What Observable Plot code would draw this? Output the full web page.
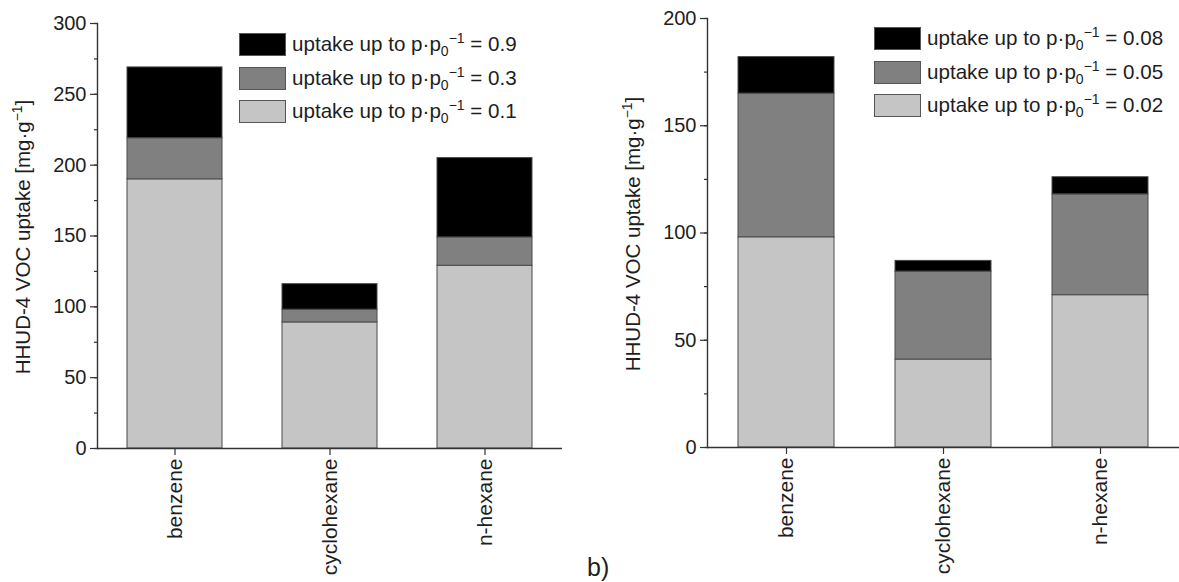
<!DOCTYPE html>
<html>
<head>
<meta charset="utf-8">
<script src="https://cdn.jsdelivr.net/npm/d3@7"></script>
<script src="https://cdn.jsdelivr.net/npm/@observablehq/plot@0.6"></script>
<style>
  html, body { margin: 0; padding: 0; background: #fff; }
  #root { position: relative; width: 1179px; height: 582px; overflow: hidden; background: #fff;
          font-family: "Liberation Sans", Arial, sans-serif; color: #1e1e1e; }
  .panel { position: absolute; top: 0; }
  .ylab { position: absolute; white-space: nowrap; font-size: 20.5px; transform: translate(-50%, -50%) rotate(-90deg); }
  .legend { position: absolute; font-size: 20.6px; }
  .row { position: absolute; left: 0; display: flex; align-items: center; white-space: nowrap; }
  .sw { box-sizing: border-box; border: 1px solid #555; margin-right: 6px; }
  sub { font-size: 0.68em; vertical-align: -0.35em; }
  sup { font-size: 0.68em; vertical-align: 0.6em; }
  .ylab sup { vertical-align: 0.55em; }
  #tag { position: absolute; left: 587px; top: 553px; font-size: 25px; }
  .panel g[aria-label="x-axis tick label"] { font-size: 21px; }
</style>
</head>
<body>
<div id="root"></div>
<script>
// ---- data ----
const categories = ["benzene", "cyclohexane", "n-hexane"];
const fills = ["#c5c5c5", "#808080", "#000000"];

// left panel: relative pressures and cumulative uptake (mg/g)
const leftPressures = ["0.1", "0.3", "0.9"];
const leftUpTo01 = [190, 89, 129];
const leftUpTo03 = [219, 98, 149];
const leftUpTo09 = [269, 116, 205];
const leftTicks = [0, 50, 100, 150, 200, 250, 300];

// right panel
const rightPressures = ["0.02", "0.05", "0.08"];
const rightUpTo002 = [98, 41, 71];
const rightUpTo005 = [165, 82, 118];
const rightUpTo008 = [182, 87, 126];
const rightTicks = [0, 50, 100, 150, 200];

function buildRows(levels, pressures) {
  const rows = [];
  categories.forEach((c, i) => {
    levels.forEach((lv, j) => {
      rows.push({cat: c, p: pressures[j], y1: j === 0 ? 0 : levels[j - 1][i], y2: lv[i]});
    });
  });
  return rows;
}

function panel({levels, pressures, ticks, width, marginLeft, marginRight, marginTop, marginBottom}) {
  const max = ticks[ticks.length - 1];
  const minor = d3.range(0, max + 1, 25);
  return Plot.plot({
    width, height: 582, marginLeft, marginRight, marginTop, marginBottom,
    style: {fontFamily: "'Liberation Sans', Arial, sans-serif", fontSize: "20px", color: "#1e1e1e", background: "transparent", overflow: "visible"},
    x: {domain: categories, paddingInner: 0.39, paddingOuter: 0.195, label: null},
    y: {domain: [0, max], label: null},
    color: {domain: pressures, range: fills},
    marks: [
      Plot.barY(buildRows(levels, pressures), {x: "cat", y1: "y1", y2: "y2", fill: "p", stroke: "#4a4a4a", strokeWidth: 1}),
      Plot.axisY({ticks: minor, tickSize: 3, tickFormat: () => "", stroke: "#333", strokeWidth: 1.2}),
      Plot.axisY({ticks, tickSize: 7, tickPadding: 4, stroke: "#333", strokeWidth: 1.2, fill: "#1e1e1e"}),
      Plot.axisX({tickSize: 7, tickPadding: 3, tickRotate: -90, stroke: "#333", strokeWidth: 1.2, fill: "#1e1e1e", fontSize: 21}),
      Plot.ruleY([0], {stroke: "#333", strokeWidth: 1.4}),
      Plot.frame({anchor: "left", stroke: "#333", strokeWidth: 1.4})
    ]
  });
}

const root = document.getElementById("root");

const left = panel({levels: [leftUpTo01, leftUpTo03, leftUpTo09], pressures: leftPressures, ticks: leftTicks,
  width: 600, marginLeft: 97, marginRight: 38, marginTop: 23, marginBottom: 134});
left.classList.add("panel"); left.style.left = "0px";
root.appendChild(left);

const right = panel({levels: [rightUpTo002, rightUpTo005, rightUpTo008], pressures: rightPressures, ticks: rightTicks,
  width: 579, marginLeft: 107, marginRight: 0, marginTop: 18, marginBottom: 135});
right.classList.add("panel"); right.style.left = "600px";
root.appendChild(right);

function yLabel(x, y) {
  const d = document.createElement("div");
  d.className = "ylab";
  d.style.left = x + "px"; d.style.top = y + "px";
  d.innerHTML = "HHUD-4 VOC uptake [mg·g<sup>−1</sup>]";
  root.appendChild(d);
}
yLabel(22, 237);
yLabel(632, 234);

function legend(x, y, pressures, rowStep, swW) {
  const lg = document.createElement("div");
  lg.className = "legend";
  lg.style.left = x + "px"; lg.style.top = y + "px";
  pressures.slice().reverse().forEach((p, k) => {
    const idx = pressures.length - 1 - k;
    const r = document.createElement("div");
    r.className = "row";
    r.style.top = (k * rowStep) + "px";
    r.innerHTML = `<div class="sw" style="width:${swW}px;height:23px;background:${fills[idx]}"></div>` +
      `<span>uptake up to p·p<sub>0</sub><sup>−1</sup> = ${p}</span>`;
    lg.appendChild(r);
  });
  root.appendChild(lg);
}
legend(239, 30, leftPressures, 33.5, 47);
legend(874, 24, rightPressures, 33.5, 47);

const tag = document.createElement("div");
tag.id = "tag"; tag.textContent = "b)";
root.appendChild(tag);
</script>
</body>
</html>
